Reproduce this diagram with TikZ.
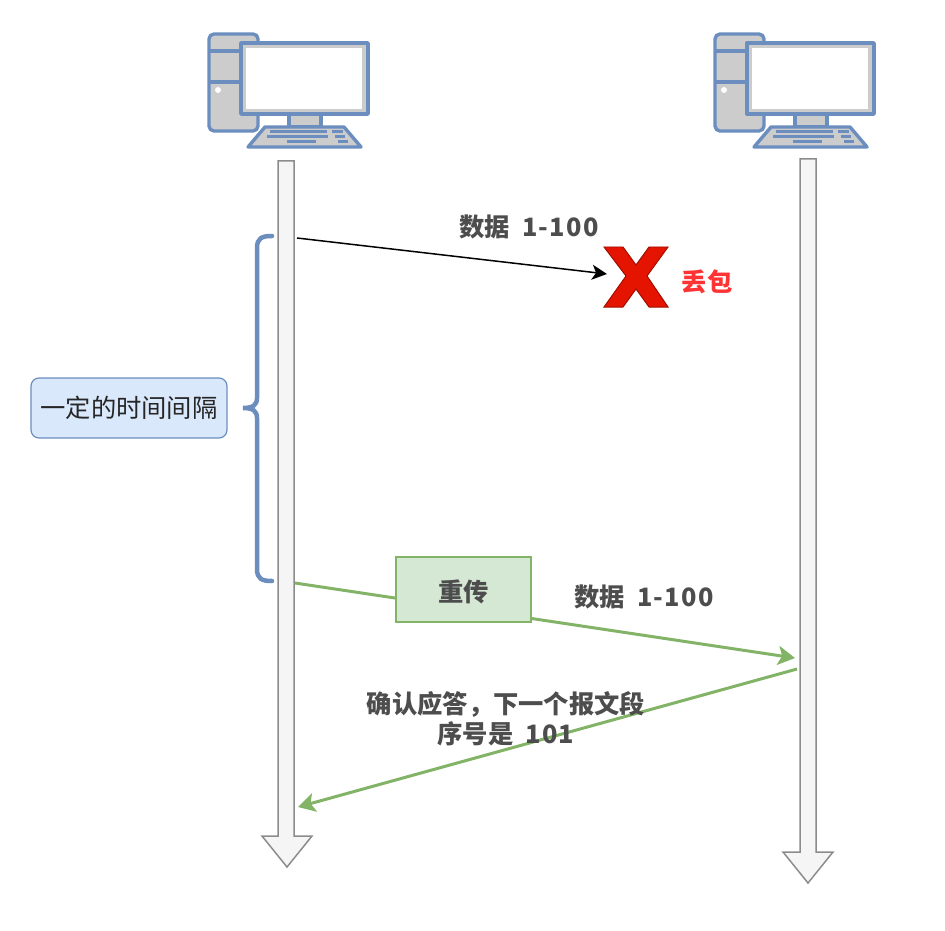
\documentclass[tikz,border=0pt]{standalone}
\usepackage{fontspec}
\usetikzlibrary{arrows.meta}
\setmainfont{Noto Sans CJK SC}
\definecolor{pcblue}{HTML}{6C8EBF}
\definecolor{pcgray}{HTML}{CCCCCC}
\definecolor{notefill}{HTML}{DAE8FC}
\definecolor{okgreen}{HTML}{82B366}
\definecolor{okfill}{HTML}{D5E8D4}
\definecolor{lostred}{HTML}{E51400}
\definecolor{labelgray}{HTML}{4D4D4D}
\newcommand{\nums}[1]{\hspace{0.12cm}{\addfontfeature{LetterSpace=5}#1}}
\tikzset{
	pcline/.style={draw=pcblue, line width=0.034cm, line join=round},
	pcbody/.style={pcline, fill=pcgray},
	pckey/.style={draw=pcblue, line width=0.03cm},
	lifeline/.style={draw=gray!90, fill=gray!8, line width=0.015cm, line join=miter},
	msglabel/.style={text=labelgray, font=\fontsize{7.2}{8.5}\selectfont\bfseries, align=center, inner sep=0pt},
	resend/.style={-{Stealth[length=0.17cm, width=0.19cm, inset=0.04cm]}, draw=okgreen, line width=0.03cm},
	pc/.pic={
		\draw[pcbody, rounded corners=0.05cm] (0.01,0) rectangle (0.5,0.97);
		\draw[pcline] (0.01,0.17) -- (0.33,0.17);
		\draw[pcline] (0.01,0.48) -- (0.33,0.48);
		\fill[white] (0.1,0.56) circle (0.03);
		\draw[pcbody] (0.81,0.8) rectangle (1.13,0.93);
		\draw[pcbody] (0.33,0.09) rectangle (1.6,0.8);
		\fill[white] (0.38,0.14) rectangle (1.54,0.75);
		\draw[pcbody] (0.57,0.93) -- (1.36,0.93) -- (1.53,1.13) -- (0.4,1.13) -- cycle;
		\draw[pckey] (0.62,0.98) -- (1.19,0.98);
		\draw[pckey] (1.24,0.98) -- (1.35,0.98);
		\draw[pckey] (0.59,1.03) -- (1.2,1.03);
		\draw[pckey] (1.27,1.03) -- (1.37,1.03);
		\draw[pckey] (0.79,1.08) -- (1.08,1.08);
		\draw[pckey] (1.3,1.08) -- (1.4,1.08);
	}
}
\begin{document}
\begin{tikzpicture}[>={Stealth[length=0.15cm, width=0.15cm, inset=0.04cm]}, x=1cm, y=-1cm]
	\useasboundingbox (0,0) rectangle (9.45,9.3);
	\pic at (2.08,0.34) {pc};
	\pic at (7.14,0.34) {pc};
	\draw[lifeline] (2.78,1.61) -- (2.94,1.61) -- (2.94,8.36) -- (3.12,8.36) -- (2.87,8.67) -- (2.62,8.36) -- (2.78,8.36) -- cycle;
	\draw[lifeline] (8,1.59) -- (8.16,1.59) -- (8.16,8.52) -- (8.33,8.52) -- (8.08,8.83) -- (7.83,8.52) -- (8,8.52) -- cycle;
	\draw[draw=pcblue, line width=0.045cm, line cap=round] (2.72,2.36) .. controls (2.62,2.36) and (2.57,2.38) .. (2.57,2.48) -- (2.57,3.98) .. controls (2.57,4.05) and (2.53,4.08) .. (2.43,4.08) .. controls (2.53,4.08) and (2.57,4.11) .. (2.57,4.18) -- (2.57,5.69) .. controls (2.57,5.79) and (2.62,5.81) .. (2.72,5.81);
	\node[draw=pcblue, fill=notefill, rounded corners=0.08cm, line width=0.012cm, minimum width=1.96cm, minimum height=0.6cm, inner sep=0pt, text=black!85, font=\fontsize{7.2}{8.5}\selectfont] (wait) at (1.29,4.08) {一定的时间间隔};
	\draw[draw=lostred!70!black, fill=lostred, line width=0.01cm, line join=miter] (6.04,2.47) -- (6.23,2.47) -- (6.36,2.65) -- (6.49,2.47) -- (6.68,2.47) -- (6.47,2.76) -- (6.68,3.07) -- (6.49,3.07) -- (6.36,2.89) -- (6.23,3.07) -- (6.04,3.07) -- (6.26,2.76) -- cycle;
	\coordinate (sendA) at (2.97,2.38);
	\coordinate (lost) at (6.07,2.74);
	\draw[->, line width=0.015cm] (sendA) -- (lost);
	\node[msglabel] (dataA) at (5.29,2.27) {数据\nums{1-100}};
	\node[msglabel, text=red!80!white] (lostlabel) at (7.07,2.82) {丢包};
	\coordinate (sendB) at (2.95,5.83);
	\coordinate (recvB) at (7.95,6.58);
	\draw[resend] (sendB) -- (recvB);
	\node[draw=okgreen, fill=okfill, line width=0.012cm, minimum width=1.35cm, minimum height=0.65cm, text=labelgray, font=\fontsize{7.2}{8.5}\selectfont\bfseries, inner sep=0pt, text height=0.26cm, text depth=0.02cm] (retrans) at (4.635,5.895) {重传};
	\node[msglabel] (dataB) at (6.44,5.97) {数据\nums{1-100}};
	\coordinate (sendC) at (7.97,6.69);
	\coordinate (recvC) at (2.98,8.07);
	\draw[resend] (sendC) -- (recvC);
	\node[msglabel] (ack) at (5.06,7.19) {确认应答，下一个报文段\\序号是\nums{101}};
\end{tikzpicture}
\end{document}
